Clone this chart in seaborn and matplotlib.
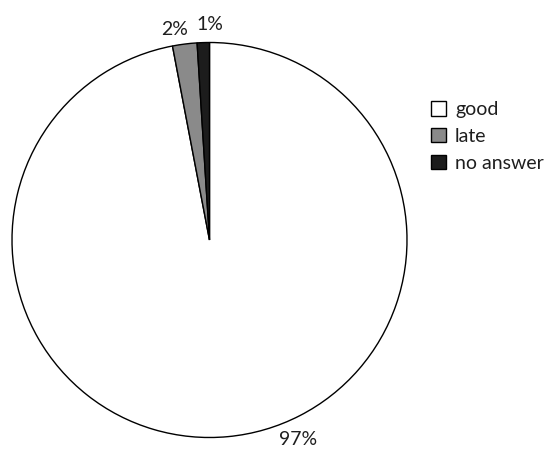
import matplotlib
matplotlib.use("Agg")
import matplotlib.pyplot as plt
import seaborn as sns

# data
categories = ["good", "late", "no answer"]
shares = [97, 2, 1]
slice_colors = ["#ffffff", "#8a8a8a", "#1c1c1c"]

# label offsets (in radius units from the pie centre)
label_pos = [(0.448, -1.012), (-0.177, 1.068), (0.003, 1.091)]

sns.set_style("white")
plt.rcParams["font.family"] = ["Lato", "DejaVu Sans"]

W, H = 549, 449
fig = plt.figure(figsize=(W / 100, H / 100), dpi=100)
ax = fig.add_axes([0, 0, 1, 1])

cx, cy, r = 209.5, H - 240, 197.5
wedges, _ = ax.pie(shares, colors=slice_colors, startangle=90, counterclock=False,
                   center=(cx, cy), radius=r,
                   wedgeprops=dict(edgecolor="black", linewidth=1.0))

for v, (dx, dy) in zip(shares, label_pos):
    ax.text(cx + dx * r, cy + dy * r, f"{v}%", ha="center", va="center",
            fontsize=14, color="#1e1e1e")

ax.set_xlim(0, W)
ax.set_ylim(0, H)
ax.set_aspect("equal")
ax.axis("off")

leg = ax.legend(wedges, categories, loc="upper left", frameon=False,
                bbox_to_anchor=(431 / W, 1 - 101 / H), borderpad=0, borderaxespad=0,
                handlelength=0.78, handleheight=0.78, handletextpad=0.45,
                labelspacing=0.5, fontsize=14)
for t in leg.get_texts():
    t.set_color("#1e1e1e")

fig.savefig("out.png", dpi=100)
